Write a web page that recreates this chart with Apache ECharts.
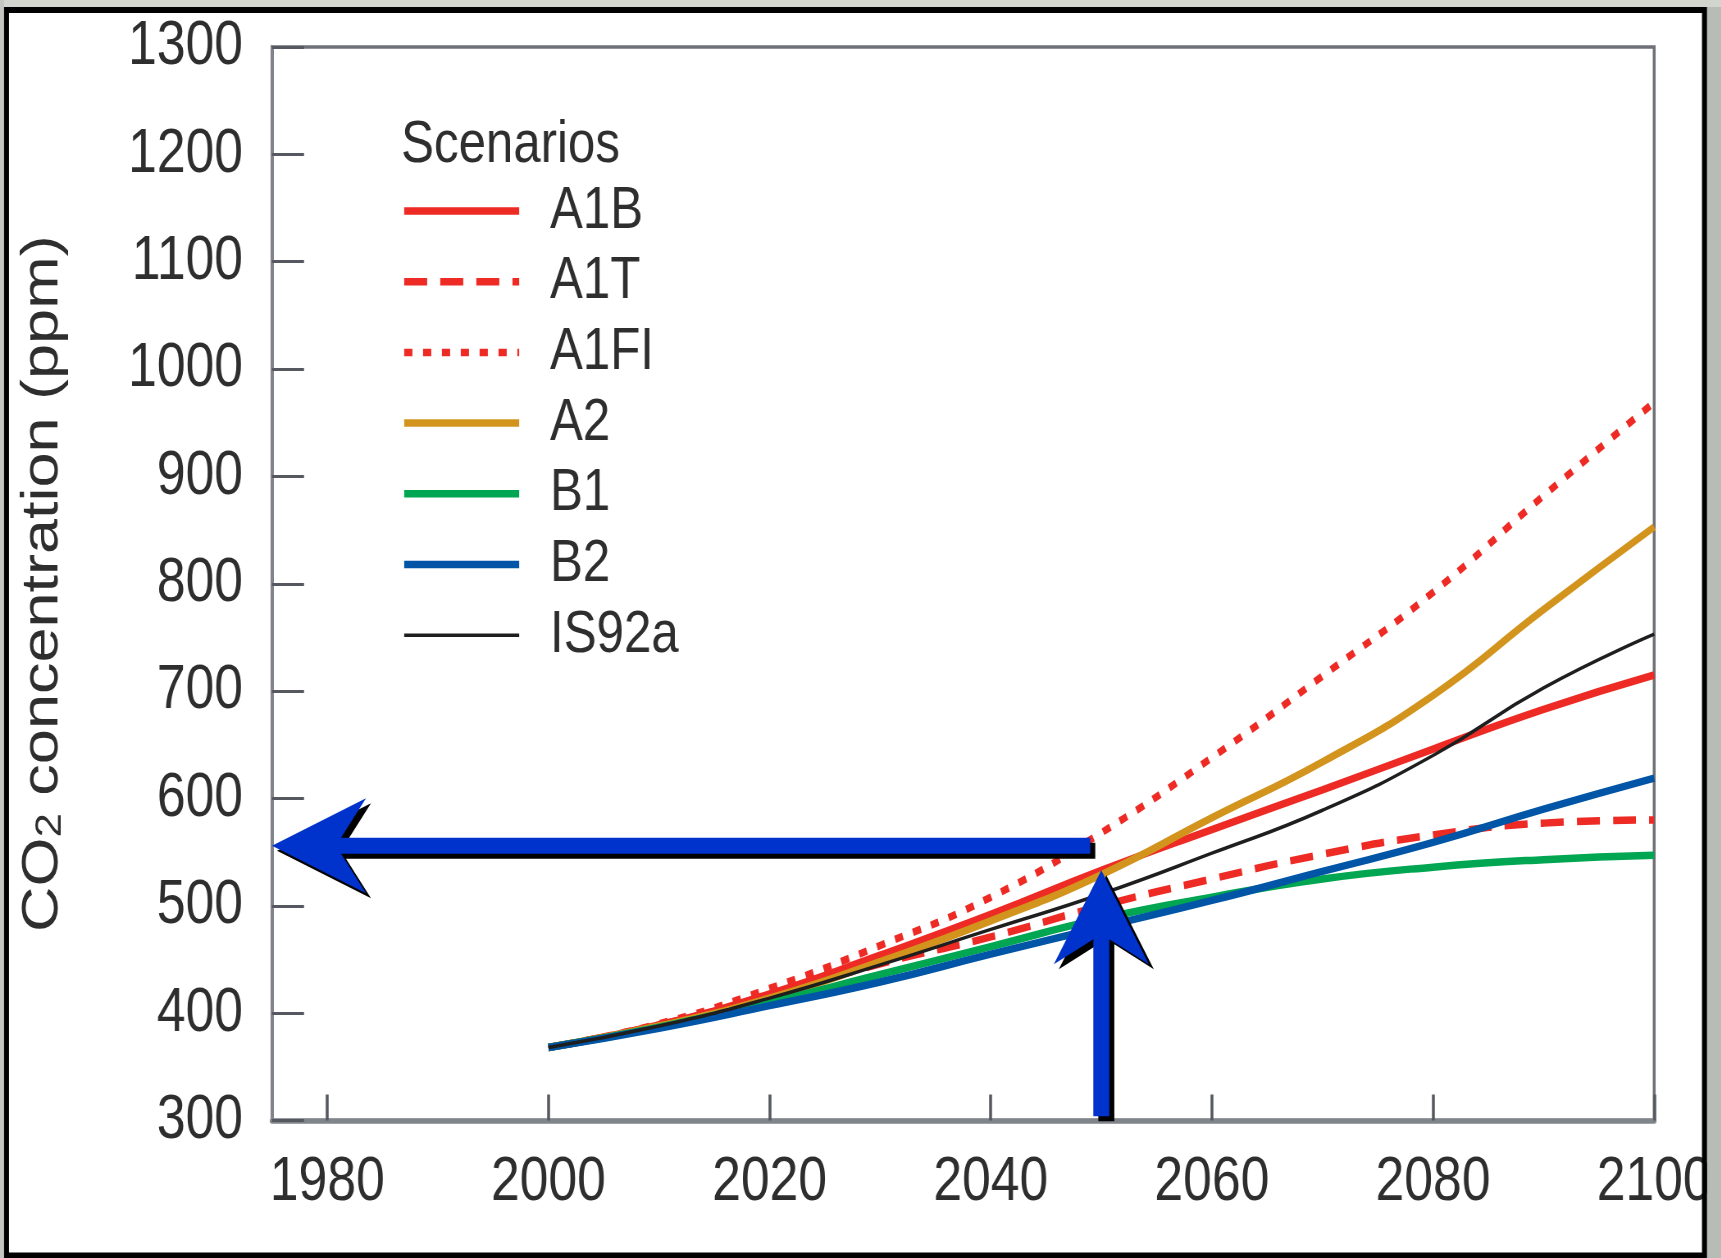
<!DOCTYPE html>
<html>
<head>
<meta charset="utf-8">
<title>CO2 concentration scenarios</title>
<script src="https://cdn.jsdelivr.net/npm/echarts@6/dist/echarts.min.js"></script>
<style>
  html, body { margin: 0; padding: 0; background: #c3c6c0; overflow: hidden; }
  #wrap { width: 1721px; height: 1258px; overflow: hidden; }
  #chart { height: 1258px; transform-origin: 0 0; }
</style>
</head>
<body>
<div id="wrap"><div id="chart"></div></div>
<script>
// Scenario years and CO2 concentrations (ppm)
const years = [2000, 2010, 2020, 2030, 2040, 2050, 2060, 2070, 2080, 2090, 2100];
const A1B   = [368, 389, 418, 454, 492, 533, 571, 608, 646, 683, 715];
const A1T   = [368, 389, 416, 446, 471, 500, 525, 548, 566, 577, 580];
const A1FI  = [368, 390, 423, 463, 508, 568, 638, 714, 792, 882, 969];
const A2    = [368, 388, 414, 448, 486, 529, 582, 634, 696, 776, 853];
const B1    = [368, 387, 410, 436, 462, 488, 508, 525, 536, 543, 547];
const B2    = [368, 386, 407, 429, 455, 480, 505, 532, 559, 590, 619];
const IS92a = [368, 388, 414, 445, 478, 511, 549, 589, 640, 703, 753];

// Axis ticks
const xTicks = [1980, 2000, 2020, 2040, 2060, 2080, 2100];
const yMin = 300, yMax = 1300, yStep = 100;
const xMin = 1975, xMax = 2100;

// Annotation arrows: [tailYear, tailPpm, tipYear, tipPpm]
const arrows = [
  [2049, 556, 1975, 556],
  [2050, 304, 2050, 533]
];

// The figure is drawn wide and squeezed horizontally (narrow lettering)
const k = 0.82;
const W = 1721, H = 1258;
const cw = Math.round(W / k);
const chartEl = document.getElementById('chart');
chartEl.style.width = cw + 'px';
chartEl.style.transform = 'scaleX(' + k + ')';
const X = px => px / k;   // screen px -> chart px, horizontal

const font = "'Liberation Sans', Arial, Helvetica, sans-serif";
const textColor = '#2e2e2e';
const red = '#ee2a24';

function pairs(vals) { return years.map((y, i) => [y, vals[i]]); }

const scenarios = [
  { name: 'A1B',   data: A1B,   color: red,       width: 7.5, type: 'solid' },
  { name: 'A1T',   data: A1T,   color: red,       width: 7.5, type: [28, 16] },
  { name: 'A1FI',  data: A1FI,  color: red,       width: 7.5, type: [10, 13] },
  { name: 'A2',    data: A2,    color: '#d2941c', width: 7.5, type: 'solid' },
  { name: 'B1',    data: B1,    color: '#00a651', width: 7.5, type: 'solid' },
  { name: 'B2',    data: B2,    color: '#0055a6', width: 7.5, type: 'solid' },
  { name: 'IS92a', data: IS92a, color: '#1e1e1e', width: 3.5, type: 'solid' }
];

const lineSeries = scenarios.map(s => ({
  name: s.name,
  type: 'line',
  data: pairs(s.data),
  smooth: true,
  symbol: 'none',
  lineStyle: { color: s.color, width: s.width, type: s.type, cap: 'butt' },
  itemStyle: { color: s.color },
  z: s.name === 'IS92a' ? 4 : 3
}));

// Block arrow polygon, built in screen space then mapped back to chart space
function arrowPoints(tc, pc) {
  const L = 94, Wd = 47.5, N = 69, S = 8;
  const t = [tc[0] * k, tc[1]], p = [pc[0] * k, pc[1]];
  const dx = p[0] - t[0], dy = p[1] - t[1];
  const len = Math.sqrt(dx * dx + dy * dy);
  const ux = dx / len, uy = dy / len;
  const nx = -uy, ny = ux;
  const at = (back, side) => [p[0] - ux * back + nx * side, p[1] - uy * back + ny * side];
  const pts = [
    [t[0] + nx * S, t[1] + ny * S],
    at(N, S),
    at(L, Wd),
    [p[0], p[1]],
    at(L, -Wd),
    at(N, -S),
    [t[0] - nx * S, t[1] - ny * S]
  ];
  return pts.map(q => [q[0] / k, q[1]]);
}

const arrowSeries = {
  type: 'custom',
  name: 'arrows',
  data: arrows,
  encode: { x: [0, 2], y: [1, 3] },
  clip: false,
  silent: true,
  z: 10,
  renderItem: function (params, api) {
    const t = api.coord([api.value(0), api.value(1)]);
    const p = api.coord([api.value(2), api.value(3)]);
    const pts = arrowPoints(t, p);
    const shadow = pts.map(q => [q[0] + X(5), q[1] + 5]);
    return {
      type: 'group',
      children: [
        { type: 'polygon', shape: { points: shadow }, style: { fill: '#000000' } },
        { type: 'polygon', shape: { points: pts }, style: { fill: '#0033cc' } }
      ]
    };
  }
};

const chart = echarts.init(chartEl, null, { renderer: 'canvas', width: cw, height: H });

chart.setOption({
  backgroundColor: '#c3c6c0',
  animation: false,
  title: {
    text: 'Scenarios',
    left: X(397),
    top: 110,
    textStyle: { fontFamily: font, fontSize: 60, fontWeight: 'normal', color: textColor }
  },
  legend: {
    orient: 'vertical',
    left: X(397),
    top: 176,
    itemWidth: X(115),
    itemHeight: 14,
    itemGap: 10.7,
    selectedMode: false,
    textStyle: {
      fontFamily: font, fontSize: 60, lineHeight: 60, color: textColor,
      padding: [0, 0, 0, X(35) - 10]
    },
    data: scenarios.map(s => ({
      name: s.name,
      itemStyle: { opacity: 0 },
      lineStyle: { color: s.color, width: s.width, type: s.type }
    }))
  },
  grid: {
    left: X(272), right: X(W - 1654), top: 47, bottom: H - 1120.5,
    show: true, borderColor: '#6e7178', borderWidth: 3.5, backgroundColor: 'transparent'
  },
  xAxis: {
    type: 'value',
    min: xMin, max: xMax,
    splitLine: { show: false },
    axisLine: { lineStyle: { color: '#80848b', width: 5.5 } },
    axisTick: { inside: true, length: 26, customValues: xTicks, lineStyle: { color: '#55585e', width: 3.5 } },
    axisLabel: {
      customValues: xTicks, margin: 31,
      fontFamily: font, fontSize: 63, color: textColor,
      formatter: v => String(v)
    }
  },
  yAxis: {
    type: 'value',
    min: yMin, max: yMax, interval: yStep,
    name: 'CO{sub|2} concentration (ppm)',
    nameLocation: 'middle',
    nameRotate: 90,
    nameGap: X(203),
    nameTextStyle: {
      fontFamily: font, fontSize: 63, color: textColor, lineHeight: 63,
      rich: { sub: { fontFamily: font, fontSize: 44, lineHeight: 44, verticalAlign: 'bottom', color: textColor } }
    },
    splitLine: { show: false },
    axisLine: { show: true, lineStyle: { color: '#80848b', width: 4 } },
    axisTick: { inside: true, length: X(32), lineStyle: { color: '#55585e', width: 3 } },
    axisLabel: {
      margin: X(29), fontFamily: font, fontSize: 63, color: textColor,
      formatter: v => String(v)
    }
  },
  graphic: [
    // white panel behind the plot
    { type: 'rect', z: -10, silent: true, shape: { x: X(9), y: 13, width: X(1693), height: 1240 }, style: { fill: '#ffffff' } },
    // outer bands and black frame drawn on top
    { type: 'rect', z: 200, silent: true, shape: { x: X(1707), y: 0, width: X(14), height: H }, style: { fill: '#b8bcb6' } },
    { type: 'rect', z: 200, silent: true, shape: { x: 0, y: 0, width: cw, height: 7 }, style: { fill: '#d2d5ce' } },
    { type: 'rect', z: 200, silent: true, shape: { x: 0, y: 0, width: X(4), height: H }, style: { fill: '#c4c7c1' } },
    { type: 'rect', z: 201, silent: true, shape: { x: X(6.5), y: 10, width: X(1698), height: 1245.5 }, style: { fill: null, stroke: '#000000', lineWidth: 6 } }
  ],
  series: lineSeries.concat([arrowSeries])
});
</script>
</body>
</html>
